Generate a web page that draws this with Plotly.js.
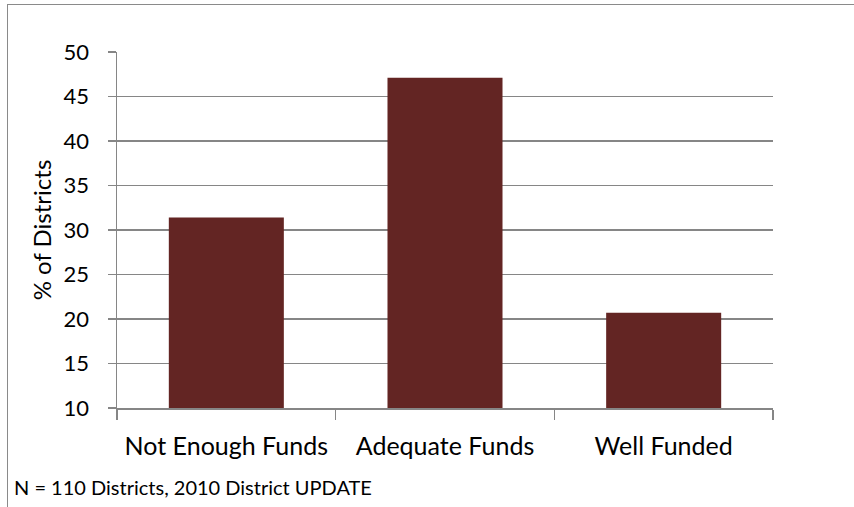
<!DOCTYPE html>
<html>
<head>
<meta charset="utf-8">
<script src="https://cdn.plot.ly/plotly-3.0.1.min.js"></script>
<style>
html, body { margin: 0; padding: 0; background: #fff; }
#wrap { position: relative; width: 854px; height: 507px; overflow: hidden; }
#frame { position: absolute; left: 7px; top: 4px; width: 900px; height: 600px; border: 1.5px solid #8a8a8a; box-sizing: border-box; }
#chart { position: absolute; left: 0; top: 0; width: 854px; height: 507px; }
</style>
</head>
<body>
<div id="wrap">
  <div id="frame"></div>
  <div id="chart"></div>
</div>
<script>
const categories = ["Not Enough Funds", "Adequate Funds", "Well Funded"];
const percentDistricts = [31.4, 47.1, 20.7];
const yTickValues = [10, 15, 20, 25, 30, 35, 40, 45, 50];
const yAxisTitle = "% of Districts";
const footnote = "N = 110 Districts, 2010 District UPDATE";

const FONT = "Lato, 'Open Sans', sans-serif";

const trace = {
  type: "bar",
  x: categories,
  y: percentDistricts,
  marker: { color: "#632523", line: { width: 0 } },
  width: 0.526,
  hoverinfo: "x+y"
};

const layout = {
  width: 854,
  height: 507,
  margin: { l: 117, r: 81, t: 52, b: 99 },
  paper_bgcolor: "rgba(0,0,0,0)",
  plot_bgcolor: "rgba(0,0,0,0)",
  showlegend: false,
  font: { family: FONT, size: 20, color: "#000" },
  xaxis: {
    type: "category",
    tickson: "boundaries",
    ticks: "outside",
    ticklen: 10,
    tickwidth: 1.5,
    tickcolor: "#868686",
    showline: true,
    linecolor: "#868686",
    linewidth: 1.5,
    showgrid: false,
    tickfont: { family: FONT, size: 25, color: "#000" },
    ticklabelstandoff: 15,
    range: [-0.5, 2.5]
  },
  yaxis: {
    range: [10, 50],
    tickvals: yTickValues,
    ticks: "outside",
    ticklen: 8,
    tickwidth: 1.5,
    tickcolor: "#868686",
    showline: true,
    linecolor: "#868686",
    linewidth: 1.5,
    showgrid: true,
    gridcolor: "#868686",
    gridwidth: 1.5,
    zeroline: false,
    tickfont: { family: FONT, size: 22, color: "#000" },
    ticklabelstandoff: 14,
    title: { text: yAxisTitle, font: { family: FONT, size: 24, color: "#000" }, standoff: 5 }
  },
  annotations: [{
    text: footnote,
    xref: "paper", yref: "paper",
    x: (12 - 117) / 656, y: -(487 - 408) / 356,
    xanchor: "left", yanchor: "middle",
    showarrow: false,
    font: { family: FONT, size: 20, color: "#000" }
  }]
};

Plotly.newPlot("chart", [trace], layout, { displayModeBar: false, staticPlot: true });
</script>
</body>
</html>
